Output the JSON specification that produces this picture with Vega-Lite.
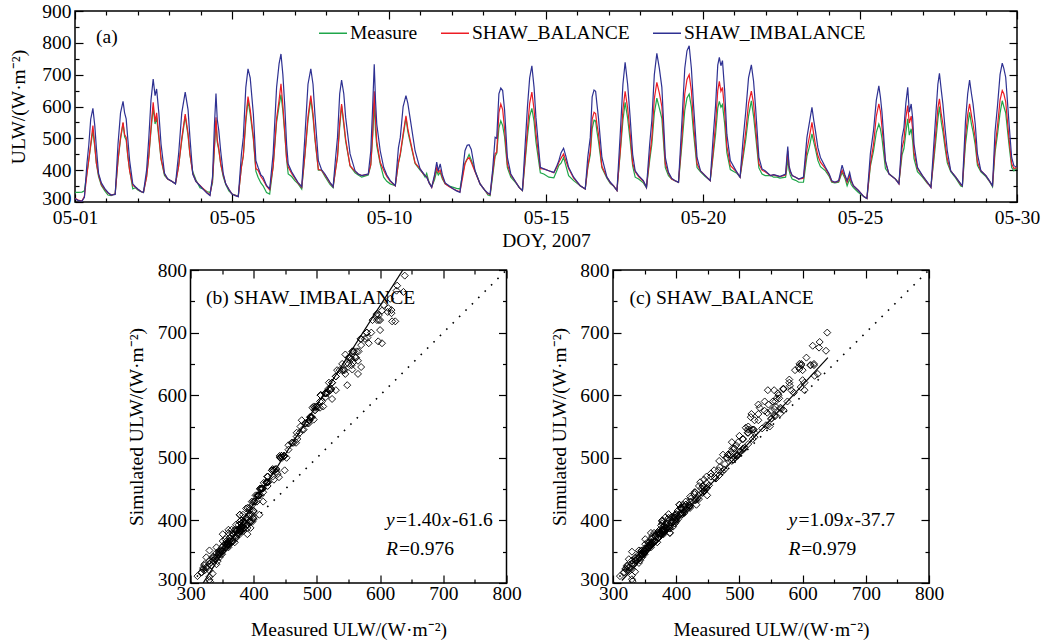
{
  "$schema": "https://vega.github.io/schema/vega-lite/v6.json",
  "padding": {"left": 8, "top": 0, "right": 0, "bottom": 0},
  "background": "white",
  "config": {
    "font": "Liberation Serif",
    "view": {"stroke": "#000", "strokeWidth": 1.5},
    "axis": {"domain": false, "grid": false, "tickColor": "#000", "tickWidth": 1.2, "labelColor": "#000", "labelFont": "Liberation Serif", "labelFontSize": 19.5, "titleFont": "Liberation Serif", "titleFontSize": 19.5, "titleFontWeight": "normal", "titleColor": "#000", "labelFlush": false, "labelOverlap": false},
    "text": {"font": "Liberation Serif", "fontSize": 19.5, "color": "#000"}
  },
  "datasets": {
    "ulw": [
      {"t":0.00,"m":330,"b":312,"i":310},{"t":0.10,"m":330,"b":306,"i":305},{"t":0.22,"m":331,"b":303,"i":302},{"t":0.30,"m":335,"b":318,"i":315},{"t":0.38,"m":390,"b":387,"i":420},{"t":0.44,"m":432,"b":433,"i":480},{"t":0.50,"m":476,"b":481,"i":560},{"t":0.57,"m":524,"b":540,"i":594},{"t":0.63,"m":473,"b":478,"i":540},{"t":0.68,"m":422,"b":423,"i":470},{"t":0.75,"m":380,"b":385,"i":390},{"t":0.84,"m":352,"b":355,"i":360},{"t":0.95,"m":335,"b":340,"i":342},
      {"t":1.05,"m":322,"b":328,"i":330},{"t":1.15,"m":320,"b":322,"i":322},{"t":1.28,"m":326,"b":325,"i":324},{"t":1.37,"m":430,"b":432,"i":482},{"t":1.45,"m":497,"b":503,"i":580},{"t":1.53,"m":548,"b":550,"i":616},{"t":1.58,"m":505,"b":512,"i":580},{"t":1.63,"m":495,"b":503,"i":561},{"t":1.68,"m":445,"b":448,"i":500},{"t":1.74,"m":400,"b":398,"i":430},{"t":1.84,"m":341,"b":352,"i":357},{"t":1.92,"m":345,"b":347,"i":348},{"t":2.00,"m":338,"b":340,"i":341},
      {"t":2.10,"m":332,"b":333,"i":333},{"t":2.18,"m":330,"b":330,"i":330},{"t":2.28,"m":380,"b":378,"i":400},{"t":2.35,"m":442,"b":444,"i":500},{"t":2.42,"m":524,"b":533,"i":620},{"t":2.49,"m":597,"b":613,"i":686},{"t":2.55,"m":545,"b":552,"i":634},{"t":2.60,"m":565,"b":580,"i":655},{"t":2.67,"m":501,"b":510,"i":580},{"t":2.74,"m":434,"b":436,"i":482},{"t":2.85,"m":383,"b":388,"i":390},{"t":2.95,"m":372,"b":372,"i":373},{"t":3.08,"m":365,"b":365,"i":365},
      {"t":3.20,"m":357,"b":357,"i":357},{"t":3.30,"m":413,"b":412,"i":451},{"t":3.40,"m":493,"b":500,"i":580},{"t":3.51,"m":570,"b":576,"i":645},{"t":3.60,"m":508,"b":516,"i":590},{"t":3.66,"m":448,"b":451,"i":503},{"t":3.75,"m":395,"b":390,"i":388},{"t":3.85,"m":370,"b":365,"i":365},{"t":3.98,"m":345,"b":352,"i":351},{"t":4.10,"m":340,"b":340,"i":338},{"t":4.20,"m":333,"b":330,"i":328},
      {"t":4.30,"m":330,"b":322,"i":320},{"t":4.38,"m":360,"b":370,"i":380},{"t":4.44,"m":468,"b":472,"i":540},{"t":4.49,"m":556,"b":566,"i":641},{"t":4.53,"m":488,"b":495,"i":560},{"t":4.58,"m":463,"b":467,"i":524},{"t":4.64,"m":420,"b":420,"i":460},{"t":4.72,"m":380,"b":385,"i":390},{"t":4.80,"m":355,"b":357,"i":357},{"t":4.90,"m":335,"b":340,"i":340},{"t":5.00,"m":325,"b":325,"i":325},{"t":5.10,"m":322,"b":321,"i":320},
      {"t":5.20,"m":318,"b":317,"i":317},{"t":5.30,"m":410,"b":410,"i":450},{"t":5.36,"m":444,"b":446,"i":503},{"t":5.44,"m":551,"b":563,"i":660},{"t":5.51,"m":619,"b":631,"i":718},{"t":5.58,"m":576,"b":590,"i":690},{"t":5.68,"m":497,"b":505,"i":576},{"t":5.76,"m":397,"b":405,"i":430},{"t":5.83,"m":378,"b":400,"i":409},{"t":5.92,"m":360,"b":380,"i":385},{"t":5.99,"m":351,"b":370,"i":378},{"t":6.10,"m":330,"b":350,"i":352},{"t":6.20,"m":325,"b":338,"i":341},
      {"t":6.31,"m":410,"b":412,"i":451},{"t":6.42,"m":550,"b":562,"i":660},{"t":6.50,"m":603,"b":620,"i":735},{"t":6.56,"m":637,"b":671,"i":765},{"t":6.62,"m":586,"b":604,"i":700},{"t":6.68,"m":514,"b":522,"i":603},{"t":6.74,"m":432,"b":435,"i":480},{"t":6.79,"m":388,"b":410,"i":419},{"t":6.90,"m":380,"b":390,"i":395},{"t":7.00,"m":367,"b":375,"i":378},{"t":7.10,"m":358,"b":360,"i":362},{"t":7.22,"m":341,"b":346,"i":348},
      {"t":7.32,"m":444,"b":447,"i":503},{"t":7.42,"m":556,"b":568,"i":670},{"t":7.51,"m":624,"b":634,"i":718},{"t":7.58,"m":566,"b":578,"i":670},{"t":7.64,"m":497,"b":505,"i":576},{"t":7.75,"m":400,"b":402,"i":430},{"t":7.85,"m":400,"b":400,"i":402},{"t":7.96,"m":380,"b":385,"i":388},{"t":8.12,"m":355,"b":360,"i":362},{"t":8.22,"m":345,"b":348,"i":348},
      {"t":8.30,"m":403,"b":402,"i":440},{"t":8.36,"m":441,"b":444,"i":503},{"t":8.43,"m":536,"b":547,"i":640},{"t":8.49,"m":603,"b":608,"i":683},{"t":8.56,"m":542,"b":552,"i":640},{"t":8.62,"m":490,"b":497,"i":565},{"t":8.76,"m":413,"b":414,"i":451},{"t":8.92,"m":392,"b":396,"i":398},{"t":9.02,"m":385,"b":388,"i":388},{"t":9.13,"m":378,"b":383,"i":383},{"t":9.25,"m":382,"b":385,"i":386},{"t":9.34,"m":385,"b":388,"i":388},
      {"t":9.42,"m":416,"b":418,"i":460},{"t":9.48,"m":506,"b":515,"i":600},{"t":9.53,"m":612,"b":648,"i":733},{"t":9.57,"m":524,"b":560,"i":620},{"t":9.61,"m":477,"b":490,"i":545},{"t":9.72,"m":420,"b":425,"i":461},{"t":9.83,"m":378,"b":400,"i":409},{"t":9.93,"m":365,"b":380,"i":385},{"t":10.04,"m":357,"b":365,"i":367},{"t":10.20,"m":351,"b":351,"i":351},
      {"t":10.30,"m":422,"b":424,"i":470},{"t":10.36,"m":448,"b":452,"i":503},{"t":10.45,"m":506,"b":514,"i":600},{"t":10.54,"m":565,"b":571,"i":634},{"t":10.60,"m":521,"b":530,"i":610},{"t":10.67,"m":490,"b":497,"i":565},{"t":10.83,"m":421,"b":423,"i":461},{"t":10.99,"m":400,"b":404,"i":404},{"t":11.08,"m":390,"b":390,"i":392},{"t":11.15,"m":378,"b":383,"i":383},{"t":11.20,"m":390,"b":380,"i":378},{"t":11.28,"m":360,"b":360,"i":360},{"t":11.36,"m":348,"b":346,"i":346},
      {"t":11.45,"m":370,"b":380,"i":385},{"t":11.52,"m":398,"b":409,"i":425},{"t":11.57,"m":385,"b":393,"i":398},{"t":11.63,"m":393,"b":400,"i":420},{"t":11.70,"m":372,"b":378,"i":385},{"t":11.79,"m":357,"b":357,"i":360},{"t":11.92,"m":350,"b":348,"i":350},{"t":12.05,"m":346,"b":341,"i":341},{"t":12.15,"m":343,"b":336,"i":335},{"t":12.26,"m":341,"b":332,"i":330},
      {"t":12.35,"m":390,"b":380,"i":400},{"t":12.42,"m":422,"b":420,"i":461},{"t":12.49,"m":436,"b":434,"i":478},{"t":12.55,"m":449,"b":440,"i":480},{"t":12.62,"m":432,"b":425,"i":465},{"t":12.74,"m":398,"b":395,"i":398},{"t":12.90,"m":357,"b":357,"i":357},{"t":13.06,"m":336,"b":336,"i":336},{"t":13.15,"m":322,"b":326,"i":328},{"t":13.22,"m":320,"b":323,"i":324},
      {"t":13.30,"m":380,"b":390,"i":400},{"t":13.38,"m":444,"b":452,"i":503},{"t":13.43,"m":452,"b":456,"i":500},{"t":13.50,"m":532,"b":580,"i":640},{"t":13.56,"m":555,"b":608,"i":658},{"t":13.62,"m":540,"b":590,"i":650},{"t":13.68,"m":505,"b":530,"i":590},{"t":13.77,"m":408,"b":418,"i":440},{"t":13.88,"m":378,"b":385,"i":388},{"t":14.04,"m":360,"b":362,"i":362},{"t":14.15,"m":345,"b":345,"i":345},{"t":14.25,"m":336,"b":336,"i":336},
      {"t":14.33,"m":422,"b":430,"i":470},{"t":14.41,"m":506,"b":530,"i":600},{"t":14.48,"m":569,"b":610,"i":690},{"t":14.55,"m":594,"b":645,"i":728},{"t":14.62,"m":553,"b":590,"i":660},{"t":14.68,"m":489,"b":515,"i":565},{"t":14.82,"m":392,"b":405,"i":409},{"t":14.93,"m":388,"b":404,"i":404},{"t":15.09,"m":378,"b":398,"i":398},{"t":15.25,"m":376,"b":392,"i":393},
      {"t":15.35,"m":400,"b":410,"i":415},{"t":15.41,"m":415,"b":425,"i":430},{"t":15.48,"m":422,"b":438,"i":455},{"t":15.56,"m":440,"b":451,"i":469},{"t":15.63,"m":415,"b":430,"i":445},{"t":15.72,"m":383,"b":405,"i":409},{"t":15.88,"m":367,"b":375,"i":378},{"t":16.09,"m":351,"b":351,"i":351},{"t":16.25,"m":341,"b":341,"i":341},
      {"t":16.33,"m":407,"b":410,"i":440},{"t":16.41,"m":448,"b":460,"i":503},{"t":16.47,"m":530,"b":560,"i":630},{"t":16.53,"m":557,"b":582,"i":652},{"t":16.58,"m":555,"b":578,"i":648},{"t":16.62,"m":523,"b":545,"i":610},{"t":16.67,"m":492,"b":515,"i":565},{"t":16.78,"m":407,"b":412,"i":440},{"t":16.94,"m":375,"b":378,"i":378},{"t":17.05,"m":358,"b":360,"i":362},{"t":17.15,"m":350,"b":351,"i":351},{"t":17.26,"m":336,"b":336,"i":336},
      {"t":17.37,"m":461,"b":468,"i":524},{"t":17.45,"m":557,"b":590,"i":670},{"t":17.52,"m":613,"b":648,"i":739},{"t":17.60,"m":563,"b":595,"i":670},{"t":17.68,"m":492,"b":515,"i":565},{"t":17.76,"m":413,"b":422,"i":450},{"t":17.84,"m":378,"b":395,"i":398},{"t":17.95,"m":372,"b":380,"i":383},{"t":18.10,"m":360,"b":365,"i":367},{"t":18.20,"m":345,"b":346,"i":346},
      {"t":18.30,"m":429,"b":442,"i":480},{"t":18.37,"m":481,"b":500,"i":555},{"t":18.45,"m":579,"b":625,"i":700},{"t":18.53,"m":626,"b":676,"i":767},{"t":18.61,"m":595,"b":642,"i":720},{"t":18.69,"m":562,"b":600,"i":660},{"t":18.80,"m":408,"b":420,"i":440},{"t":18.90,"m":383,"b":390,"i":393},{"t":19.00,"m":372,"b":372,"i":375},{"t":19.11,"m":367,"b":367,"i":367},{"t":19.22,"m":362,"b":362,"i":362},
      {"t":19.33,"m":482,"b":505,"i":555},{"t":19.42,"m":588,"b":640,"i":720},{"t":19.49,"m":627,"b":685,"i":775},{"t":19.56,"m":639,"b":700,"i":791},{"t":19.63,"m":598,"b":650,"i":720},{"t":19.70,"m":516,"b":545,"i":603},{"t":19.81,"m":408,"b":420,"i":440},{"t":19.92,"m":395,"b":398,"i":398},{"t":20.07,"m":380,"b":383,"i":383},{"t":20.23,"m":367,"b":367,"i":367},
      {"t":20.32,"m":442,"b":455,"i":500},{"t":20.40,"m":513,"b":545,"i":603},{"t":20.47,"m":595,"b":650,"i":730},{"t":20.52,"m":616,"b":679,"i":754},{"t":20.57,"m":598,"b":648,"i":728},{"t":20.62,"m":606,"b":660,"i":744},{"t":20.69,"m":546,"b":585,"i":650},{"t":20.76,"m":455,"b":475,"i":513},{"t":20.87,"m":402,"b":415,"i":430},{"t":21.08,"m":390,"b":393,"i":393},{"t":21.18,"m":378,"b":378,"i":378},
      {"t":21.28,"m":442,"b":455,"i":500},{"t":21.36,"m":495,"b":520,"i":582},{"t":21.45,"m":570,"b":610,"i":690},{"t":21.54,"m":618,"b":648,"i":731},{"t":21.61,"m":570,"b":610,"i":680},{"t":21.67,"m":514,"b":540,"i":603},{"t":21.78,"m":407,"b":420,"i":440},{"t":21.88,"m":388,"b":400,"i":404},{"t":21.98,"m":383,"b":395,"i":398},{"t":22.15,"m":383,"b":383,"i":383},{"t":22.25,"m":378,"b":385,"i":386},{"t":22.36,"m":378,"b":382,"i":383},{"t":22.45,"m":375,"b":380,"i":380},{"t":22.63,"m":378,"b":385,"i":388},
      {"t":22.67,"m":405,"b":425,"i":440},{"t":22.70,"m":438,"b":461,"i":474},{"t":22.74,"m":400,"b":410,"i":415},{"t":22.78,"m":385,"b":395,"i":398},{"t":22.84,"m":372,"b":383,"i":383},{"t":22.95,"m":368,"b":378,"i":378},{"t":23.05,"m":362,"b":372,"i":372},{"t":23.20,"m":362,"b":375,"i":378},
      {"t":23.31,"m":444,"b":465,"i":503},{"t":23.39,"m":474,"b":505,"i":550},{"t":23.47,"m":514,"b":550,"i":597},{"t":23.53,"m":487,"b":510,"i":555},{"t":23.58,"m":467,"b":480,"i":524},{"t":23.66,"m":430,"b":445,"i":470},{"t":23.74,"m":411,"b":425,"i":440},{"t":23.90,"m":398,"b":405,"i":409},{"t":24.02,"m":380,"b":385,"i":388},{"t":24.10,"m":362,"b":365,"i":367},{"t":24.20,"m":360,"b":362,"i":362},{"t":24.32,"m":362,"b":365,"i":367},
      {"t":24.43,"m":393,"b":400,"i":416},{"t":24.52,"m":375,"b":380,"i":385},{"t":24.59,"m":351,"b":362,"i":367},{"t":24.67,"m":372,"b":383,"i":393},{"t":24.72,"m":355,"b":365,"i":370},{"t":24.79,"m":345,"b":351,"i":351},{"t":24.95,"m":330,"b":336,"i":336},{"t":25.12,"m":317,"b":317,"i":317},{"t":25.22,"m":311,"b":311,"i":311},
      {"t":25.33,"m":412,"b":420,"i":451},{"t":25.43,"m":460,"b":480,"i":524},{"t":25.52,"m":519,"b":570,"i":620},{"t":25.60,"m":545,"b":608,"i":665},{"t":25.65,"m":530,"b":585,"i":630},{"t":25.70,"m":500,"b":535,"i":582},{"t":25.81,"m":405,"b":425,"i":430},{"t":25.92,"m":390,"b":388,"i":388},{"t":26.13,"m":372,"b":372,"i":372},{"t":26.24,"m":360,"b":357,"i":357},
      {"t":26.34,"m":448,"b":470,"i":503},{"t":26.40,"m":468,"b":495,"i":534},{"t":26.46,"m":518,"b":565,"i":610},{"t":26.52,"m":561,"b":603,"i":660},{"t":26.57,"m":510,"b":548,"i":582},{"t":26.63,"m":530,"b":570,"i":608},{"t":26.68,"m":488,"b":525,"i":560},{"t":26.72,"m":436,"b":455,"i":482},{"t":26.83,"m":395,"b":405,"i":409},{"t":26.99,"m":378,"b":382,"i":383},{"t":27.15,"m":358,"b":360,"i":362},{"t":27.26,"m":350,"b":346,"i":346},
      {"t":27.35,"m":429,"b":445,"i":480},{"t":27.42,"m":498,"b":525,"i":582},{"t":27.48,"m":559,"b":595,"i":670},{"t":27.53,"m":600,"b":624,"i":704},{"t":27.59,"m":550,"b":575,"i":650},{"t":27.64,"m":521,"b":545,"i":608},{"t":27.71,"m":469,"b":485,"i":530},{"t":27.78,"m":423,"b":435,"i":461},{"t":27.89,"m":395,"b":398,"i":398},{"t":28.05,"m":375,"b":378,"i":378},{"t":28.21,"m":350,"b":355,"i":357},{"t":28.26,"m":348,"b":351,"i":351},
      {"t":28.36,"m":482,"b":505,"i":555},{"t":28.43,"m":540,"b":575,"i":640},{"t":28.49,"m":582,"b":608,"i":683},{"t":28.55,"m":544,"b":572,"i":640},{"t":28.60,"m":521,"b":545,"i":608},{"t":28.67,"m":479,"b":500,"i":545},{"t":28.74,"m":415,"b":425,"i":451},{"t":28.85,"m":395,"b":398,"i":398},{"t":29.01,"m":380,"b":383,"i":383},{"t":29.12,"m":365,"b":366,"i":367},{"t":29.22,"m":348,"b":351,"i":351},
      {"t":29.30,"m":455,"b":470,"i":520},{"t":29.38,"m":513,"b":540,"i":603},{"t":29.46,"m":579,"b":620,"i":700},{"t":29.53,"m":618,"b":650,"i":736},{"t":29.58,"m":600,"b":640,"i":720},{"t":29.64,"m":580,"b":615,"i":692},{"t":29.74,"m":485,"b":505,"i":555},{"t":29.83,"m":408,"b":420,"i":440},{"t":29.90,"m":398,"b":405,"i":414},{"t":30.00,"m":409,"b":409,"i":409}
    ]
  },
  "spacing": 8,
  "vconcat": [
    {
      "width": 942,
      "height": 191,
      "layer": [
        {
          "data": {"name": "ulw"},
          "transform": [{"fold": ["m", "b", "i"], "as": ["s", "v"]}],
          "mark": {"type": "line", "strokeWidth": 1.2, "clip": true},
          "encoding": {
            "x": {"field": "t", "type": "quantitative", "scale": {"domain": [0, 30], "nice": false, "zero": false},
              "axis": {"orient": "bottom", "values": [0,1,2,3,4,5,6,7,8,9,10,11,12,13,14,15,16,17,18,19,20,21,22,23,24,25,26,27,28,29,30],
                "labelExpr": "datum.value % 5 === 0 ? (datum.value === 0 ? '05-01' : '05-' + (datum.value < 10 ? '0' + datum.value : datum.value)) : ''",
                "tickSize": {"condition": {"test": "datum.value % 5 === 0", "value": -8}, "value": -4},
                "labelPadding": 14, "title": "DOY, 2007", "titlePadding": 1}},
            "y": {"field": "v", "type": "quantitative", "scale": {"domain": [300, 900], "nice": false, "zero": false},
              "axis": {"orient": "left", "values": [300,350,400,450,500,550,600,650,700,750,800,850,900],
                "labelExpr": "datum.value % 100 === 0 ? datum.label : ''",
                "labelOffset": {"condition": {"test": "datum.value === 300", "value": -4}, "value": 0},
                "tickSize": {"condition": {"test": "datum.value % 100 === 0", "value": -8}, "value": -4},
                "labelPadding": 12, "title": "ULW/(W·m⁻²)", "titlePadding": 13}},
            "color": {"field": "s", "type": "nominal",
              "scale": {"domain": ["m", "b", "i"], "range": ["#1fa64a", "#ed1c24", "#2e3192"]},
              "legend": {"orient": "none", "legendX": 243, "legendY": 7, "direction": "horizontal", "title": null,
                "symbolType": "stroke", "symbolSize": 784, "symbolStrokeWidth": 1.5, "labelFont": "Liberation Serif",
                "labelFontSize": 19.5, "labelColor": "#000", "labelOffset": 2, "labelLimit": 400, "columnPadding": 20, "padding": 0,
                "labelExpr": "datum.value == 'm' ? 'Measure' : datum.value == 'b' ? 'SHAW_BALANCE' : '\u00a0\u00a0SHAW_IMBALANCE'"}}
          }
        },
        {
          "data": {"values": [{"t": 0.67, "v": 819, "label": "(a)"}]},
          "mark": {"type": "text", "align": "left", "baseline": "middle"},
          "encoding": {
            "x": {"field": "t", "type": "quantitative",
              "axis": {"orient": "top", "values": [0,1,2,3,4,5,6,7,8,9,10,11,12,13,14,15,16,17,18,19,20,21,22,23,24,25,26,27,28,29,30], "labels": false,
                "tickSize": {"condition": {"test": "datum.value % 5 === 0", "value": -8}, "value": -4}, "title": null}},
            "y": {"field": "v", "type": "quantitative",
              "axis": {"orient": "right", "values": [300,350,400,450,500,550,600,650,700,750,800,850,900], "labels": false,
                "tickSize": {"condition": {"test": "datum.value % 100 === 0", "value": -8}, "value": -4}, "title": null}},
            "text": {"field": "label"}
          }
        }
      ],
      "resolve": {"axis": {"x": "independent", "y": "independent"}}
    },
    {
      "spacing": 25.5,
      "hconcat": [
        {
          "width": 25, "height": 313,
          "view": {"stroke": null},
          "data": {"values": [{"a": 0}]},
          "mark": {"type": "point", "opacity": 0},
          "encoding": {}
        },
        {
          "width": 316, "height": 313,
          "layer": [
            {
              "data": {"values": [{"x": 300, "y": 300}, {"x": 800, "y": 800}]},
              "mark": {"type": "line", "color": "#000", "strokeWidth": 1.6, "strokeDash": [1.6, 7.4], "clip": true},
              "encoding": {
                "x": {"field": "x", "type": "quantitative", "scale": {"domain": [300, 800], "nice": false, "zero": false},
                  "axis": {"orient": "top", "values": [300,350,400,450,500,550,600,650,700,750,800], "labels": false,
                    "tickSize": {"condition": {"test": "datum.value % 100 === 0", "value": -8}, "value": -4}, "title": null}},
                "y": {"field": "y", "type": "quantitative", "scale": {"domain": [300, 800], "nice": false, "zero": false},
                  "axis": {"orient": "right", "values": [300,350,400,450,500,550,600,650,700,750,800], "labels": false,
                    "tickSize": {"condition": {"test": "datum.value % 100 === 0", "value": -8}, "value": -4}, "title": null}}
              }
            },
            {
              "data": {"name": "ulw"},
              "mark": {"type": "point", "shape": "diamond", "size": 49, "filled": false, "stroke": "#000", "strokeWidth": 0.9, "opacity": 1, "clip": true},
              "encoding": {
                "x": {"field": "m", "type": "quantitative",
                  "axis": {"orient": "bottom", "values": [300,350,400,450,500,550,600,650,700,750,800],
                    "labelExpr": "datum.value % 100 === 0 ? datum.label : ''",
                    "tickSize": {"condition": {"test": "datum.value % 100 === 0", "value": -8}, "value": -4},
                    "labelPadding": 9, "title": "Measured ULW/(W·m⁻²)", "titlePadding": 14}},
                "y": {"field": "i", "type": "quantitative",
                  "axis": {"orient": "left", "values": [300,350,400,450,500,550,600,650,700,750,800],
                    "labelExpr": "datum.value % 100 === 0 ? datum.label : ''",
                    "labelOffset": {"condition": {"test": "datum.value === 300", "value": -4}, "value": 0},
                    "tickSize": {"condition": {"test": "datum.value % 100 === 0", "value": -8}, "value": -4},
                    "labelPadding": 12, "title": "Simulated ULW/(W·m⁻²)", "titlePadding": 10.5}}
              }
            },
            {
              "data": {"values": [{"x": 320, "y": 300}, {"x": 636, "y": 800}]},
              "mark": {"type": "line", "color": "#000", "strokeWidth": 1.2, "clip": true},
              "encoding": {
                "x": {"field": "x", "type": "quantitative", "axis": null},
                "y": {"field": "y", "type": "quantitative", "axis": null}
              }
            },
            {
              "data": {"values": [{"x": 324.5, "y": 755, "txt": "(b) SHAW_IMBALANCE"}, {"x": 625.2, "y": 400.6, "txt": "=1.40"}, {"x": 713.8, "y": 400.6, "txt": "-61.6"}, {"x": 630, "y": 354, "txt": "=0.976"}]},
              "mark": {"type": "text", "align": "left", "baseline": "middle"},
              "encoding": {
                "x": {"field": "x", "type": "quantitative", "axis": null},
                "y": {"field": "y", "type": "quantitative", "axis": null},
                "text": {"field": "txt"}
              }
            },
            {
              "data": {"values": [{"x": 609.3, "y": 400.6, "txt": "y"}, {"x": 698, "y": 400.6, "txt": "x"}, {"x": 609.3, "y": 354, "txt": "R"}]},
              "mark": {"type": "text", "align": "left", "baseline": "middle", "fontStyle": "italic"},
              "encoding": {
                "x": {"field": "x", "type": "quantitative", "axis": null},
                "y": {"field": "y", "type": "quantitative", "axis": null},
                "text": {"field": "txt"}
              }
            }
          ],
          "resolve": {"axis": {"x": "independent", "y": "independent"}}
        },
        {
          "width": 316, "height": 313,
          "layer": [
            {
              "data": {"values": [{"x": 300, "y": 300}, {"x": 800, "y": 800}]},
              "mark": {"type": "line", "color": "#000", "strokeWidth": 1.6, "strokeDash": [1.6, 7.4], "clip": true},
              "encoding": {
                "x": {"field": "x", "type": "quantitative", "scale": {"domain": [300, 800], "nice": false, "zero": false},
                  "axis": {"orient": "top", "values": [300,350,400,450,500,550,600,650,700,750,800], "labels": false,
                    "tickSize": {"condition": {"test": "datum.value % 100 === 0", "value": -8}, "value": -4}, "title": null}},
                "y": {"field": "y", "type": "quantitative", "scale": {"domain": [300, 800], "nice": false, "zero": false},
                  "axis": {"orient": "right", "values": [300,350,400,450,500,550,600,650,700,750,800], "labels": false,
                    "tickSize": {"condition": {"test": "datum.value % 100 === 0", "value": -8}, "value": -4}, "title": null}}
              }
            },
            {
              "data": {"name": "ulw"},
              "mark": {"type": "point", "shape": "diamond", "size": 49, "filled": false, "stroke": "#000", "strokeWidth": 0.9, "opacity": 1, "clip": true},
              "encoding": {
                "x": {"field": "m", "type": "quantitative",
                  "axis": {"orient": "bottom", "values": [300,350,400,450,500,550,600,650,700,750,800],
                    "labelExpr": "datum.value % 100 === 0 ? datum.label : ''",
                    "tickSize": {"condition": {"test": "datum.value % 100 === 0", "value": -8}, "value": -4},
                    "labelPadding": 9, "title": "Measured ULW/(W·m⁻²)", "titlePadding": 14}},
                "y": {"field": "b", "type": "quantitative",
                  "axis": {"orient": "left", "values": [300,350,400,450,500,550,600,650,700,750,800],
                    "labelExpr": "datum.value % 100 === 0 ? datum.label : ''",
                    "labelOffset": {"condition": {"test": "datum.value === 300", "value": -4}, "value": 0},
                    "tickSize": {"condition": {"test": "datum.value % 100 === 0", "value": -8}, "value": -4},
                    "labelPadding": 12, "title": "Simulated ULW/(W·m⁻²)", "titlePadding": 10.5}}
              }
            },
            {
              "data": {"values": [{"x": 314, "y": 304}, {"x": 640, "y": 660}]},
              "mark": {"type": "line", "color": "#000", "strokeWidth": 1.2, "clip": true},
              "encoding": {
                "x": {"field": "x", "type": "quantitative", "axis": null},
                "y": {"field": "y", "type": "quantitative", "axis": null}
              }
            },
            {
              "data": {"values": [{"x": 326, "y": 755, "txt": "(c) SHAW_BALANCE"}, {"x": 593.4, "y": 400.6, "txt": "=1.09"}, {"x": 682, "y": 400.6, "txt": "-37.7"}, {"x": 598, "y": 354, "txt": "=0.979"}]},
              "mark": {"type": "text", "align": "left", "baseline": "middle"},
              "encoding": {
                "x": {"field": "x", "type": "quantitative", "axis": null},
                "y": {"field": "y", "type": "quantitative", "axis": null},
                "text": {"field": "txt"}
              }
            },
            {
              "data": {"values": [{"x": 577.7, "y": 400.6, "txt": "y"}, {"x": 666.1, "y": 400.6, "txt": "x"}, {"x": 577.7, "y": 354, "txt": "R"}]},
              "mark": {"type": "text", "align": "left", "baseline": "middle", "fontStyle": "italic"},
              "encoding": {
                "x": {"field": "x", "type": "quantitative", "axis": null},
                "y": {"field": "y", "type": "quantitative", "axis": null},
                "text": {"field": "txt"}
              }
            }
          ],
          "resolve": {"axis": {"x": "independent", "y": "independent"}}
        }
      ]
    }
  ]
}
